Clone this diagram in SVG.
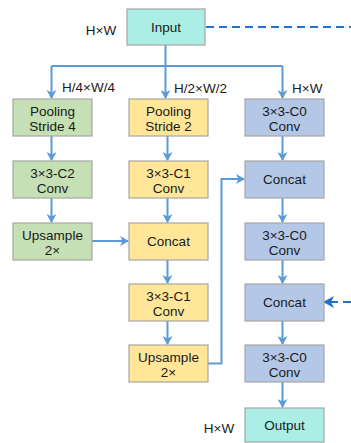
<svg xmlns="http://www.w3.org/2000/svg" width="351" height="443" viewBox="0 0 351 443">
<style>
  text { font-family: "Liberation Sans", Arial, sans-serif; font-size: 13.5px; fill: #1a1a1a; text-anchor: middle; }
  .box { stroke: #a6a6a6; stroke-width: 1.2; }
  .teal { fill: #aaeee6; }
  .green { fill: #c5e0b4; }
  .yellow { fill: #ffe699; }
  .blue { fill: #b4c7e7; }
  .conn { fill: none; stroke: #5b9bd5; stroke-width: 2; }
  .dash { fill: none; stroke: #1f74d0; stroke-width: 2; stroke-dasharray: 8 5; }
  .lbl { text-anchor: start; }
</style>
<defs>
  <marker id="arr" markerWidth="10" markerHeight="10" refX="8" refY="5" orient="auto" markerUnits="userSpaceOnUse">
    <path d="M0,0 L9,5 L0,10 L2.5,5 z" fill="#5b9bd5"/>
  </marker>
  <marker id="arrd" markerWidth="12" markerHeight="12" refX="9" refY="6" orient="auto" markerUnits="userSpaceOnUse">
    <path d="M0,0 L11,6 L0,12 L3,6 z" fill="#1f74d0"/>
  </marker>
</defs>

<g id="connectors">
  <path class="dash" d="M206,27 H351"/>
  <path class="conn" d="M165.5,45 V66"/>
  <path class="conn" d="M51.5,66 H282.5"/>
  <path class="conn" d="M51.5,66 V98" marker-end="url(#arr)"/>
  <path class="conn" d="M165.5,66 V98" marker-end="url(#arr)"/>
  <path class="conn" d="M282.5,66 V98" marker-end="url(#arr)"/>
  <path class="conn" d="M51.5,136 V160" marker-end="url(#arr)"/>
  <path class="conn" d="M167.5,136 V160" marker-end="url(#arr)"/>
  <path class="conn" d="M282.5,136 V160" marker-end="url(#arr)"/>
  <path class="conn" d="M51.5,198 V222" marker-end="url(#arr)"/>
  <path class="conn" d="M167.5,198 V222" marker-end="url(#arr)"/>
  <path class="conn" d="M282.5,198 V222" marker-end="url(#arr)"/>
  <path class="conn" d="M92,241 H128" marker-end="url(#arr)"/>
  <path class="conn" d="M167.5,260 V283" marker-end="url(#arr)"/>
  <path class="conn" d="M282.5,260 V283" marker-end="url(#arr)"/>
  <path class="conn" d="M167.5,321 V344" marker-end="url(#arr)"/>
  <path class="conn" d="M282.5,321 V344" marker-end="url(#arr)"/>
  <path class="conn" d="M282.5,382 V407" marker-end="url(#arr)"/>
  <path class="conn" d="M208,363.5 H221.5 V179 H244" marker-end="url(#arr)"/>
  <path class="dash" d="M351,302 H325" marker-end="url(#arrd)"/>
</g>

<g id="input"><rect class="box teal" x="127" y="9" width="78" height="36"/><text x="166" y="31.5">Input</text></g>
<text x="101" y="35">H×W</text>
<text class="lbl" x="62" y="92">H/4×W/4</text>
<text class="lbl" x="174" y="93">H/2×W/2</text>
<text class="lbl" x="292" y="93">H×W</text>
<text x="219" y="433">H×W</text>

<g id="pool4"><rect class="box green" x="13" y="99" width="79" height="37"/><text x="52.5" y="115.5">Pooling</text><text x="52.5" y="130.5">Stride 4</text></g>
<g id="conv_c2"><rect class="box green" x="13" y="161" width="79" height="37"/><text x="52.5" y="177.5">3×3-C2</text><text x="52.5" y="192.5">Conv</text></g>
<g id="up4"><rect class="box green" x="13" y="223" width="79" height="37"/><text x="52.5" y="239.5">Upsample</text><text x="52.5" y="254.5">2×</text></g>

<g id="pool2"><rect class="box yellow" x="129" y="99" width="79" height="37"/><text x="168.5" y="115.5">Pooling</text><text x="168.5" y="130.5">Stride 2</text></g>
<g id="conv_c1a"><rect class="box yellow" x="129" y="161" width="79" height="37"/><text x="168.5" y="177.5">3×3-C1</text><text x="168.5" y="192.5">Conv</text></g>
<g id="concat2"><rect class="box yellow" x="129" y="223" width="79" height="37"/><text x="168.5" y="246">Concat</text></g>
<g id="conv_c1b"><rect class="box yellow" x="129" y="284" width="79" height="37"/><text x="168.5" y="300.5">3×3-C1</text><text x="168.5" y="315.5">Conv</text></g>
<g id="up2"><rect class="box yellow" x="129" y="345" width="79" height="37"/><text x="168.5" y="361.5">Upsample</text><text x="168.5" y="376.5">2×</text></g>

<g id="conv_c0a"><rect class="box blue" x="245" y="99" width="79" height="37"/><text x="284.5" y="115.5">3×3-C0</text><text x="284.5" y="130.5">Conv</text></g>
<g id="concat3a"><rect class="box blue" x="245" y="161" width="79" height="37"/><text x="284.5" y="184">Concat</text></g>
<g id="conv_c0b"><rect class="box blue" x="245" y="223" width="79" height="37"/><text x="284.5" y="239.5">3×3-C0</text><text x="284.5" y="254.5">Conv</text></g>
<g id="concat3b"><rect class="box blue" x="245" y="284" width="79" height="37"/><text x="284.5" y="307">Concat</text></g>
<g id="conv_c0c"><rect class="box blue" x="245" y="345" width="79" height="37"/><text x="284.5" y="361.5">3×3-C0</text><text x="284.5" y="376.5">Conv</text></g>
<g id="output"><rect class="box teal" x="245" y="408" width="79" height="34"/><text x="284.5" y="429.5">Output</text></g>
</svg>
